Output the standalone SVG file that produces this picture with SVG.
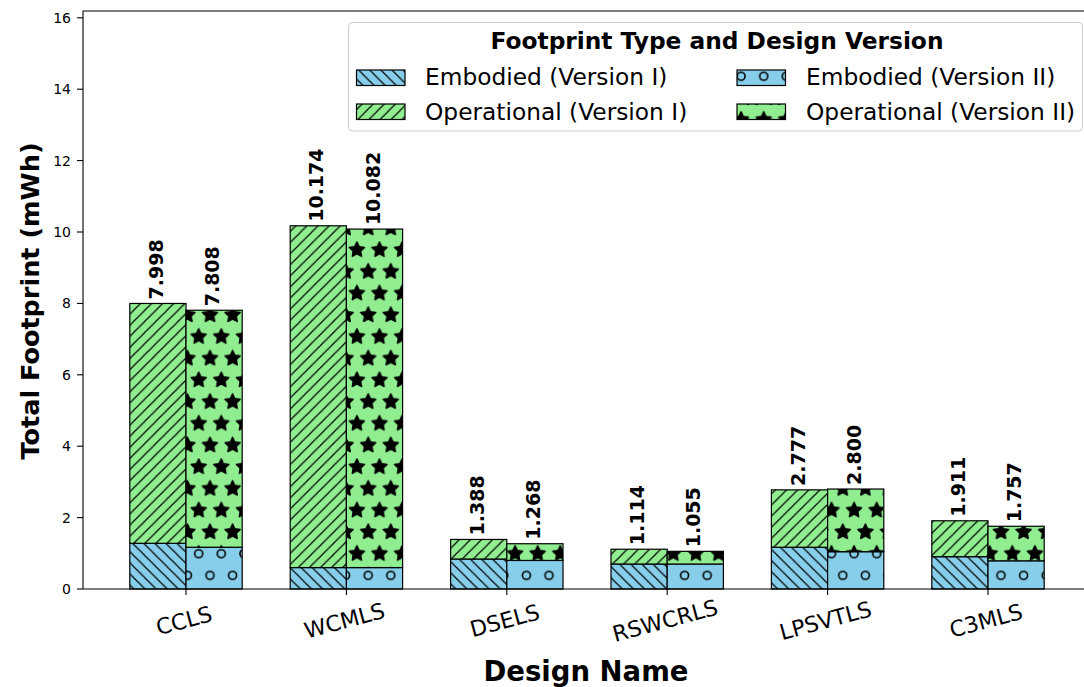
<svg xmlns="http://www.w3.org/2000/svg" width="1084" height="687" viewBox="0 0 1084 687">
  <style>
    text { font-family: "DejaVu Sans", "Liberation Sans", sans-serif; fill: #000; }
    .ytick { font-size: 14px; text-anchor: end; }
    .xtick { font-size: 22px; text-anchor: middle; }
    .axlabel { font-size: 27.5px; font-weight: bold; text-anchor: middle; }
    .ylabel { font-size: 25.5px; font-weight: bold; text-anchor: middle; }
    .val { font-size: 19px; font-weight: bold; }
    .leg { font-size: 23.3px; }
    .legtitle { font-size: 23.3px; font-weight: bold; text-anchor: middle; }
    .seg { stroke: #000; stroke-width: 1.2; }
    .tick { stroke: #000; stroke-width: 1.1; }
    .spine { stroke: #000; stroke-width: 1.1; fill: none; }
  </style>
  <defs>
    <!-- Embodied, Version I: back-slash hatch on sky blue -->
    <pattern id="hEmb1" patternUnits="userSpaceOnUse" x="0" y="0" width="11.1" height="11.1">
      <rect width="11.1" height="11.1" fill="#87ceeb"/>
      <path d="M-1,-1 L12.1,12.1 M10.1,-1 L12.1,1 M-1,10.1 L1,12.1" stroke="#000" stroke-width="1.2"/>
    </pattern>
    <!-- Operational, Version I: forward-slash hatch on light green -->
    <pattern id="hOp1" patternUnits="userSpaceOnUse" x="0" y="0" width="11.1" height="11.1">
      <rect width="11.1" height="11.1" fill="#90ee90"/>
      <path d="M-1,12.1 L12.1,-1 M-1,1 L1,-1 M10.1,12.1 L12.1,10.1" stroke="#000" stroke-width="1.2"/>
    </pattern>
    <!-- Embodied, Version II: staggered small circles -->
    <pattern id="hEmb2" patternUnits="userSpaceOnUse" x="198.7" y="304.15" width="22.6" height="43.4">
      <rect width="22.6" height="43.4" fill="#87ceeb"/>
      <g fill="none" stroke="#000" stroke-width="1.6">
        <circle cx="11.3" cy="10.85" r="4"/>
        <circle cx="0" cy="32.55" r="4"/>
        <circle cx="22.6" cy="32.55" r="4"/>
      </g>
    </pattern>
    <!-- Operational, Version II: staggered filled stars -->
    <symbol id="star" viewBox="-1 -1 2 2" overflow="visible">
      <path d="M0,-1 L0.2939,-0.4045 L0.9511,-0.309 L0.4755,0.1545 L0.5878,0.809 L0,0.5 L-0.5878,0.809 L-0.4755,0.1545 L-0.9511,-0.309 L-0.2939,-0.4045 Z" fill="#000" stroke="#000" stroke-width="0.16" stroke-linejoin="round"/>
    </symbol>
    <pattern id="hOp2" patternUnits="userSpaceOnUse" x="198.7" y="304.15" width="22.6" height="43.4">
      <rect width="22.6" height="43.4" fill="#90ee90"/>
      <g>
        <use href="#star" x="3.3" y="2.85" width="16" height="16"/>
        <use href="#star" x="-8" y="24.55" width="16" height="16"/>
        <use href="#star" x="14.6" y="24.55" width="16" height="16"/>
      </g>
    </pattern>
  </defs>

  <rect width="1084" height="687" fill="#fff"/>

  <!-- y axis ticks and labels -->
  <g id="y-axis">
    <g class="tick">
      <line x1="77" y1="589" x2="83" y2="589"/>
      <line x1="77" y1="517.6" x2="83" y2="517.6"/>
      <line x1="77" y1="446.2" x2="83" y2="446.2"/>
      <line x1="77" y1="374.8" x2="83" y2="374.8"/>
      <line x1="77" y1="303.4" x2="83" y2="303.4"/>
      <line x1="77" y1="232" x2="83" y2="232"/>
      <line x1="77" y1="160.6" x2="83" y2="160.6"/>
      <line x1="77" y1="89.2" x2="83" y2="89.2"/>
      <line x1="77" y1="17.8" x2="83" y2="17.8"/>
    </g>
    <text class="ytick" x="71" y="594">0</text>
    <text class="ytick" x="71" y="522.6">2</text>
    <text class="ytick" x="71" y="451.2">4</text>
    <text class="ytick" x="71" y="379.8">6</text>
    <text class="ytick" x="71" y="308.4">8</text>
    <text class="ytick" x="71" y="237">10</text>
    <text class="ytick" x="71" y="165.6">12</text>
    <text class="ytick" x="71" y="94.2">14</text>
    <text class="ytick" x="71" y="22.8">16</text>
    <text class="ylabel" transform="translate(39,301) rotate(-90)">Total Footprint (mWh)</text>
  </g>

  <!-- x axis ticks and labels -->
  <g id="x-axis">
    <g class="tick">
      <line x1="186" y1="589" x2="186" y2="595"/>
      <line x1="346.4" y1="589" x2="346.4" y2="595"/>
      <line x1="506.8" y1="589" x2="506.8" y2="595"/>
      <line x1="667.2" y1="589" x2="667.2" y2="595"/>
      <line x1="827.6" y1="589" x2="827.6" y2="595"/>
      <line x1="988" y1="589" x2="988" y2="595"/>
    </g>
    <text class="xtick" transform="translate(186,628) rotate(-15)">CCLS</text>
    <text class="xtick" transform="translate(346.4,628) rotate(-15)">WCMLS</text>
    <text class="xtick" transform="translate(506.8,628) rotate(-15)">DSELS</text>
    <text class="xtick" transform="translate(667.2,628) rotate(-15)">RSWCRLS</text>
    <text class="xtick" transform="translate(827.6,628) rotate(-15)">LPSVTLS</text>
    <text class="xtick" transform="translate(988,628) rotate(-15)">C3MLS</text>
    <text class="axlabel" x="586" y="681">Design Name</text>
  </g>

  <!-- stacked bars: embodied at the bottom, operational on top -->
  <g id="bar-CCLS">
    <rect class="seg" x="129.8" y="543.3" width="56.2" height="45.7" fill="url(#hEmb1)"/>
    <rect class="seg" x="129.8" y="303.47" width="56.2" height="239.83" fill="url(#hOp1)"/>
    <rect class="seg" x="186" y="547.23" width="56.2" height="41.77" fill="url(#hEmb2)"/>
    <rect class="seg" x="186" y="310.25" width="56.2" height="236.98" fill="url(#hOp2)"/>
    <text class="val" transform="translate(157.9,299.5) rotate(-90)" y="5">7.998</text>
    <text class="val" transform="translate(214.1,306.3) rotate(-90)" y="5">7.808</text>
  </g>
  <g id="bar-WCMLS">
    <rect class="seg" x="290.2" y="567.58" width="56.2" height="21.42" fill="url(#hEmb1)"/>
    <rect class="seg" x="290.2" y="225.79" width="56.2" height="341.79" fill="url(#hOp1)"/>
    <rect class="seg" x="346.4" y="567.58" width="56.2" height="21.42" fill="url(#hEmb2)"/>
    <rect class="seg" x="346.4" y="229.07" width="56.2" height="338.51" fill="url(#hOp2)"/>
    <text class="val" transform="translate(318.3,221.8) rotate(-90)" y="5">10.174</text>
    <text class="val" transform="translate(374.5,225.1) rotate(-90)" y="5">10.082</text>
  </g>
  <g id="bar-DSELS">
    <rect class="seg" x="450.6" y="559.01" width="56.2" height="29.99" fill="url(#hEmb1)"/>
    <rect class="seg" x="450.6" y="539.45" width="56.2" height="19.56" fill="url(#hOp1)"/>
    <rect class="seg" x="506.8" y="560.44" width="56.2" height="28.56" fill="url(#hEmb2)"/>
    <rect class="seg" x="506.8" y="543.73" width="56.2" height="16.71" fill="url(#hOp2)"/>
    <text class="val" transform="translate(478.7,535.5) rotate(-90)" y="5">1.388</text>
    <text class="val" transform="translate(534.9,539.7) rotate(-90)" y="5">1.268</text>
  </g>
  <g id="bar-RSWCRLS">
    <rect class="seg" x="611" y="564.01" width="56.2" height="24.99" fill="url(#hEmb1)"/>
    <rect class="seg" x="611" y="549.23" width="56.2" height="14.78" fill="url(#hOp1)"/>
    <rect class="seg" x="667.2" y="564.01" width="56.2" height="24.99" fill="url(#hEmb2)"/>
    <rect class="seg" x="667.2" y="551.34" width="56.2" height="12.67" fill="url(#hOp2)"/>
    <text class="val" transform="translate(639.1,545.2) rotate(-90)" y="5">1.114</text>
    <text class="val" transform="translate(695.3,547.3) rotate(-90)" y="5">1.055</text>
  </g>
  <g id="bar-LPSVTLS">
    <rect class="seg" x="771.4" y="547.23" width="56.2" height="41.77" fill="url(#hEmb1)"/>
    <rect class="seg" x="771.4" y="489.86" width="56.2" height="57.37" fill="url(#hOp1)"/>
    <rect class="seg" x="827.6" y="551.69" width="56.2" height="37.31" fill="url(#hEmb2)"/>
    <rect class="seg" x="827.6" y="489.04" width="56.2" height="62.65" fill="url(#hOp2)"/>
    <text class="val" transform="translate(799.5,485.9) rotate(-90)" y="5">2.777</text>
    <text class="val" transform="translate(855.7,485) rotate(-90)" y="5">2.800</text>
  </g>
  <g id="bar-C3MLS">
    <rect class="seg" x="931.8" y="556.69" width="56.2" height="32.31" fill="url(#hEmb1)"/>
    <rect class="seg" x="931.8" y="520.78" width="56.2" height="35.91" fill="url(#hOp1)"/>
    <rect class="seg" x="988" y="560.8" width="56.2" height="28.2" fill="url(#hEmb2)"/>
    <rect class="seg" x="988" y="526.27" width="56.2" height="34.53" fill="url(#hOp2)"/>
    <text class="val" transform="translate(959.9,516.8) rotate(-90)" y="5">1.911</text>
    <text class="val" transform="translate(1016.1,522.3) rotate(-90)" y="5">1.757</text>
  </g>

  <!-- axes frame -->
  <path class="spine" d="M83,589 L83,11 L1084,11 M83,589 L1084,589"/>

  <!-- legend -->
  <g id="legend">
    <rect x="348.5" y="22.5" width="734" height="108.5" rx="4" fill="#fff" fill-opacity="0.8" stroke="#cccccc" stroke-width="1"/>
    <text class="legtitle" x="717" y="49">Footprint Type and Design Version</text>
    <rect class="seg" x="356.5" y="70" width="48.5" height="15.5" fill="url(#hEmb1)"/>
    <text class="leg" x="425" y="85">Embodied (Version I)</text>
    <rect class="seg" x="356.5" y="104" width="48.5" height="15.5" fill="url(#hOp1)"/>
    <text class="leg" x="425" y="120">Operational (Version I)</text>
    <rect class="seg" x="737" y="70" width="48.5" height="15.5" fill="url(#hEmb2)"/>
    <text class="leg" x="806" y="85">Embodied (Version II)</text>
    <rect class="seg" x="737" y="104" width="48.5" height="15.5" fill="url(#hOp2)"/>
    <text class="leg" x="806" y="120">Operational (Version II)</text>
  </g>
</svg>
